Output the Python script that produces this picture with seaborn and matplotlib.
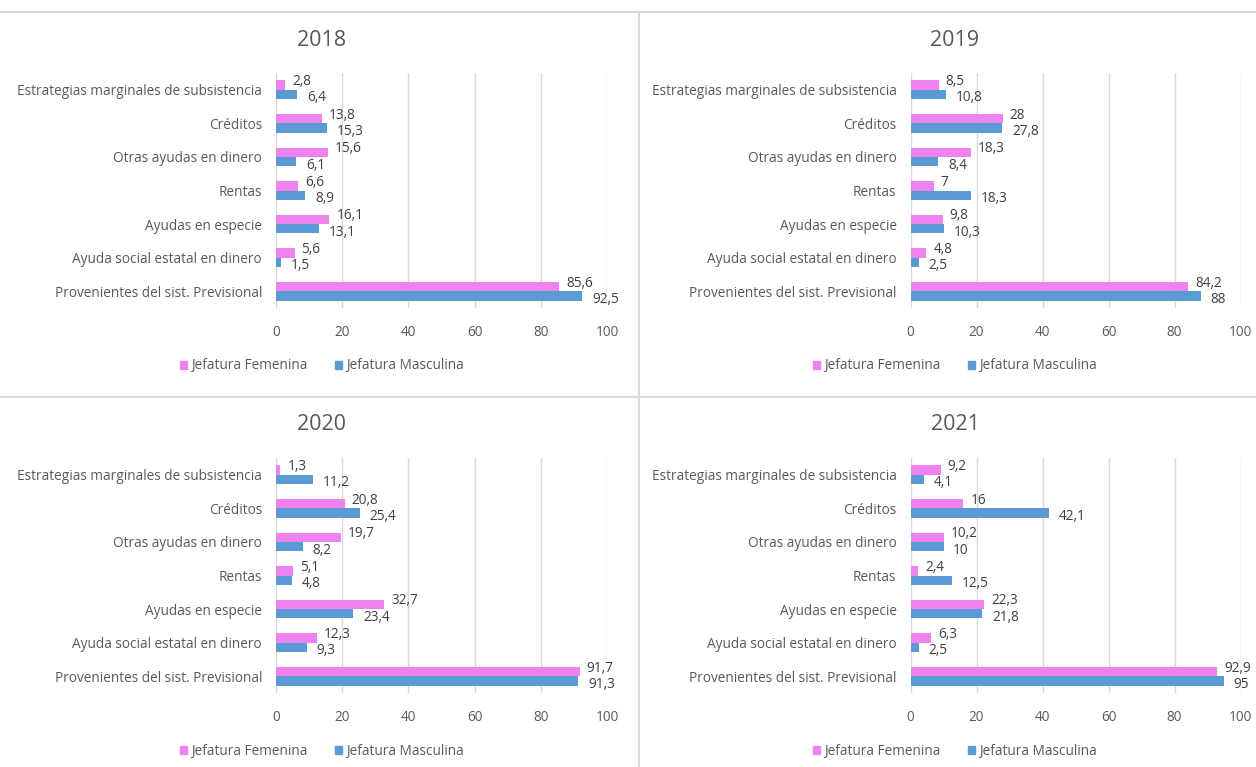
import numpy as np
import pandas as pd
import seaborn as sns
import matplotlib.pyplot as plt
from matplotlib.lines import Line2D
from matplotlib.patches import Patch

# Datos (porcentajes) por año
categorias = ["Estrategias marginales de subsistencia", "Créditos", "Otras ayudas en dinero",
              "Rentas", "Ayudas en especie", "Ayuda social estatal en dinero",
              "Provenientes del sist. Previsional"]
series = ["Jefatura Femenina", "Jefatura Masculina"]
anios = ["2018", "2019", "2020", "2021"]

fem_2018 = [2.8, 13.8, 15.6, 6.6, 16.1, 5.6, 85.6]
mas_2018 = [6.4, 15.3, 6.1, 8.9, 13.1, 1.5, 92.5]
fem_2019 = [8.5, 28, 18.3, 7, 9.8, 4.8, 84.2]
mas_2019 = [10.8, 27.8, 8.4, 18.3, 10.3, 2.5, 88]
fem_2020 = [1.3, 20.8, 19.7, 5.1, 32.7, 12.3, 91.7]
mas_2020 = [11.2, 25.4, 8.2, 4.8, 23.4, 9.3, 91.3]
fem_2021 = [9.2, 16, 10.2, 2.4, 22.3, 6.3, 92.9]
mas_2021 = [4.1, 42.1, 10, 12.5, 21.8, 2.5, 95]

valores = {"2018": (fem_2018, mas_2018), "2019": (fem_2019, mas_2019),
           "2020": (fem_2020, mas_2020), "2021": (fem_2021, mas_2021)}

ticks_x = [0, 20, 40, 60, 80, 100]

rosa = "#EE82EE"
azul = "#5B9BD5"
gris_texto = "#595959"
gris_linea = "#D9D9D9"

sns.set_theme(style="white")
plt.rcParams['font.family'] = ['Open Sans', 'DejaVu Sans']

W, H = 1256, 767
fig = plt.figure(figsize=(W / 100, H / 100), dpi=100)

# posiciones de paneles en pixeles: (x0, x100, y_top, y_bottom, titulo_x, titulo_y, leyenda_y)
paneles = {
    "2018": (276, 607, 73, 308, 322, 40, 366),
    "2019": (910.5, 1240.5, 73, 308, 955, 40, 366),
    "2020": (276, 607, 458, 693, 322, 424, 751),
    "2021": (910.5, 1240.5, 458, 693, 955, 424, 751),
}

fs = 9.8

for anio in anios:
    x0, x1, yt, yb, tx, ty, ly = paneles[anio]
    ax = fig.add_axes([x0 / W, 1 - yb / H, (x1 - x0) / W, (yb - yt) / H])
    fem, mas = valores[anio]
    df = pd.DataFrame({
        "categoria": categorias * 2,
        "valor": fem + mas,
        "jefatura": [series[0]] * len(categorias) + [series[1]] * len(categorias),
    })
    sns.barplot(data=df, y="categoria", x="valor", hue="jefatura", orient="h",
                palette=[rosa, azul], width=0.56, ax=ax, legend=False, saturation=1,
                linewidth=0)

    # etiquetas de datos
    for i, cont in enumerate(ax.containers):
        for rect in cont:
            v = rect.get_width()
            yc = rect.get_y() + rect.get_height() / 2
            txt = f"{v:g}".replace(".", ",")
            off = (5, 2.5) if i == 0 else (7, -2.5)
            ax.annotate(txt, (v, yc), xytext=off, textcoords="offset points",
                        ha="left", va="center", fontsize=fs, color="#404040")

    ax.set_xlim(0, 100)
    ax.set_ylim(6.5, -0.5)
    ax.set_xticks(ticks_x)
    ax.set_xlabel("")
    ax.set_ylabel("")
    ax.grid(axis="x", color=gris_linea, lw=1)
    ax.grid(axis="y", visible=False)
    for s in ax.spines.values():
        s.set_visible(False)
    ax.tick_params(axis="x", length=0, pad=12, labelsize=fs, labelcolor=gris_texto)
    ax.tick_params(axis="y", length=0, pad=10, labelsize=fs, labelcolor=gris_texto)
    ax.set_axisbelow(True)

    fig.text(tx / W, 1 - ty / H, anio, ha="center", va="center", fontsize=15.5, color=gris_texto)

    handles = [Patch(color=rosa, label=series[0]), Patch(color=azul, label=series[1])]
    fig.legend(handles=handles, loc="center", bbox_to_anchor=(tx / W, 1 - ly / H), ncol=2,
               frameon=False, fontsize=fs, labelcolor=gris_texto, handlelength=0.55,
               handleheight=0.55, handletextpad=0.3, columnspacing=2.0)

# lineas de separacion entre graficos
fig.add_artist(Line2D([0, 1], [1 - 12 / H, 1 - 12 / H], color=gris_linea, lw=1.5))
fig.add_artist(Line2D([0, 1], [1 - 397 / H, 1 - 397 / H], color=gris_linea, lw=1.5))
fig.add_artist(Line2D([639 / W, 639 / W], [0, 1 - 12 / H], color=gris_linea, lw=1.5))

fig.savefig("out.png", dpi=100)
